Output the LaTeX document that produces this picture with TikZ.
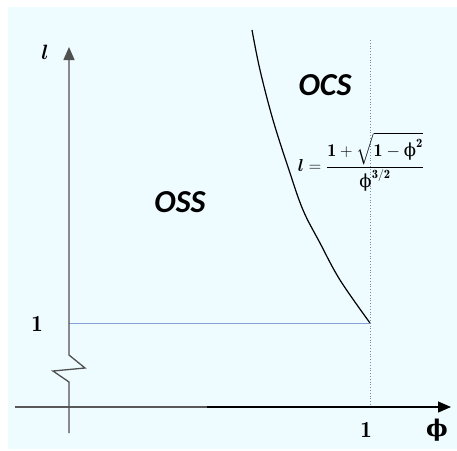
\documentclass[tikz,border=0pt]{standalone}
\usepackage{amsmath,bm}
\usepackage{fontspec}
\newfontfamily\carlito{Carlito}
\newfontfamily\phifont{DejaVu Serif}
\newcommand\phib{\text{\phifont ϕ}}
\usetikzlibrary{arrows.meta}
\definecolor{bgc}{RGB}{238,251,255}
\definecolor{axgray}{RGB}{80,80,80}
\definecolor{hline}{RGB}{135,160,215}
\definecolor{dline}{RGB}{120,140,175}
\tikzset{
  axis/.style={line width=1.3pt, draw=axgray},
  tip/.style={-{Triangle[length=13pt,width=11pt]}},
  region/.style={font=\carlito\bfseries\itshape\fontsize{32}{32}\selectfont},
  numlab/.style={font=\fontsize{23}{23}\selectfont},
}
\begin{document}
\begin{tikzpicture}[x=1pt,y=-1pt]
\useasboundingbox (0,0) rectangle (457,450);
\fill[bgc] (8,7) rectangle (457,449);
% guide lines
\draw[hline, line width=1pt] (69,323) -- (370,323);
\draw[dline, line width=0.8pt, dotted] (370,40) -- (370,407);
% horizontal axis
\coordinate (hx0) at (15,407);
\coordinate (hxm) at (207,407);
\coordinate (hx1) at (451,407);
\draw[axis, draw=black!65] (hx0) -- (hxm);
\draw[line width=1.3pt, black, tip] (hxm) -- (hx1);
% vertical axis with break
\coordinate (v0) at (69,433);
\coordinate (v1) at (69,47);
\draw[axis, tip] (v0) -- (69,382) -- (53,371) -- (85,368) -- (69,355) -- (v1);
% curve
\draw[line width=1.2pt, black] plot[smooth, tension=0.6] coordinates {(252,30) (260,70) (273,120) (289,170) (303,210) (320,243) (340,280) (370,323)};
% labels
\node[font=\fontsize{22}{22}\selectfont] (ll) at (45,52) {$\bm{l}$};
\node[numlab] (one1) at (37,324) {$\mathbf{1}$};
\node[numlab] (one2) at (366,430) {$\mathbf{1}$};
\node[numlab] (phi) at (437,430) {\phifont\bfseries ϕ};
\node[region] (oss) at (180,202) {OSS};
\node[region] (ocs) at (325,85) {OCS};
\node[font=\fontsize{18}{18}\selectfont] (form) at (361,162) {$\bm{l} = \dfrac{\mathbf{1}+\sqrt{\mathbf{1}-\phib^{\mathbf{2}}}}{\phib^{\mathbf{3/2}}}$};
\end{tikzpicture}
\end{document}
